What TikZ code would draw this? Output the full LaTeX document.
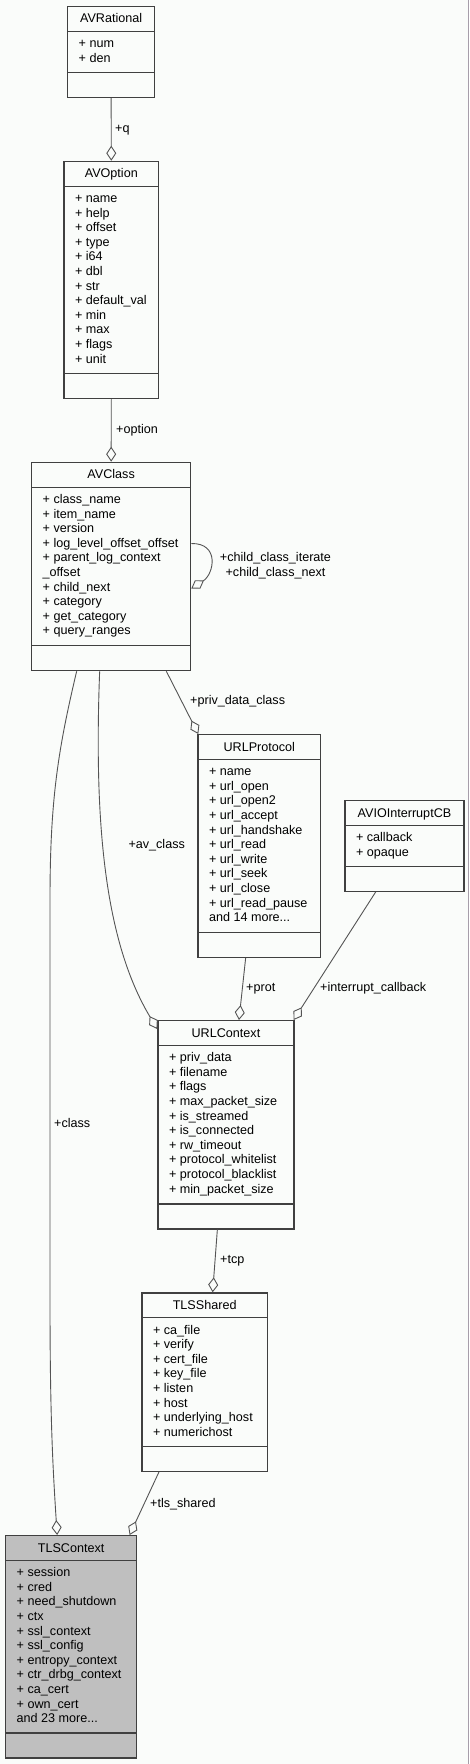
\documentclass[tikz,border=0pt]{standalone}
\usepackage{fontspec}
\setmainfont{Liberation Sans}
\usetikzlibrary{arrows.meta}

\definecolor{bgcol}{RGB}{250,252,250}
\definecolor{framecol}{RGB}{166,158,170}
\definecolor{boxcol}{RGB}{64,64,64}
\definecolor{edgecol}{RGB}{84,84,84}
\definecolor{selcol}{RGB}{191,191,191}

% class box: [style]{name}{left}{top}{width}{height}{title}{members}
\newcommand{\umlclass}[8][]{%
  \node[classbox,#1,minimum width=#5,minimum height=#6] (#2) at (#3,#4) {};
  \draw[classline] ([yshift=-25.5]#2.north west) -- ([yshift=-25.5]#2.north east);
  \draw[classline] ([yshift=25.5]#2.south west) -- ([yshift=25.5]#2.south east);
  \node[classtitle] (#2-title) at ([yshift=-17]#2.north) {#7};
  \node[classattrs] (#2-attrs) at ([xshift=11.5,yshift=-32]#2.north west) {\rule{0pt}{9.5pt}#8};
}

\begin{document}
\begin{tikzpicture}[x=1pt,y=-1pt]
\tikzstyle{every node}+=[font=\fontsize{12.6pt}{14.6pt}\selectfont]
\tikzstyle{classbox}=[draw=boxcol,line width=1.3pt,anchor=north west,inner sep=0pt]
\tikzstyle{classline}=[draw=boxcol,line width=1.3pt]
\tikzstyle{classtitle}=[anchor=base,inner sep=0pt]
\tikzstyle{classattrs}=[anchor=north west,inner sep=0pt,align=left]
\tikzstyle{lbl}=[anchor=west,inner sep=0pt,text height=9.5pt,text depth=0.9pt]
\tikzstyle{agg}=[draw=edgecol,line width=0.9pt,{Diamond[open,length=15pt,width=10pt]}-]

\useasboundingbox (0,0) rectangle (469,1764);
\fill[bgcol] (0,0) rectangle (469,1764);
\draw[framecol,line width=1.3pt] (468.3,0) -- (468.3,1764);

\umlclass{avrational}{67}{5.7}{87}{91}{AVRational}
  {+ num\\+ den}
\umlclass{avoption}{63.3}{160.7}{94.7}{237.3}{AVOption}
  {+ name\\+ help\\+ offset\\+ type\\+ i64\\+ dbl\\+ str\\+ default\_val\\+ min\\+ max\\+ flags\\+ unit}
\umlclass{avclass}{31}{461.7}{159}{208.3}{AVClass}
  {+ class\_name\\+ item\_name\\+ version\\+ log\_level\_offset\_offset\\+ parent\_log\_context\\\_offset\\+ child\_next\\+ category\\+ get\_category\\+ query\_ranges}
\umlclass{urlprotocol}{197.3}{734}{122.7}{222.7}{URLProtocol}
  {+ name\\+ url\_open\\+ url\_open2\\+ url\_accept\\+ url\_handshake\\+ url\_read\\+ url\_write\\+ url\_seek\\+ url\_close\\+ url\_read\_pause\\and 14 more...}
\umlclass{avioint}{344.3}{800}{119}{90.7}{AVIOInterruptCB}
  {+ callback\\+ opaque}
\umlclass{urlcontext}{157.3}{1020}{136}{208.3}{URLContext}
  {+ priv\_data\\+ filename\\+ flags\\+ max\_packet\_size\\+ is\_streamed\\+ is\_connected\\+ rw\_timeout\\+ protocol\_whitelist\\+ protocol\_blacklist\\+ min\_packet\_size}
\umlclass{tlsshared}{141.3}{1292.3}{125.4}{178.4}{TLSShared}
  {+ ca\_file\\+ verify\\+ cert\_file\\+ key\_file\\+ listen\\+ host\\+ underlying\_host\\+ numerichost}
\umlclass[fill=selcol]{tlscontext}{5}{1535}{131}{222.3}{TLSContext}
  {+ session\\+ cred\\+ need\_shutdown\\+ ctx\\+ ssl\_context\\+ ssl\_config\\+ entropy\_context\\+ ctr\_drbg\_context\\+ ca\_cert\\+ own\_cert\\and 23 more...}

\path (avoption.north)                  edge[agg] (avrational.south)
      (avclass.north)                   edge[agg] (avoption.south)
      ([xshift=1]urlprotocol.north west) edge[agg] ([xshift=55.2]avclass.south)
      ([xshift=13]urlcontext.north)     edge[agg] ([xshift=-13.65]urlprotocol.south)
      ([xshift=-1]urlcontext.north east) edge[agg] ([xshift=-28.8]avioint.south)
      ([xshift=8]tlsshared.north)       edge[agg] ([xshift=-8.6]urlcontext.south)
      ([xshift=-7.7]tlscontext.north east) edge[agg] ([xshift=-45.7]tlsshared.south);

\draw[agg] ([yshift=-22]avclass.east) .. controls (214,574) and (220,543) .. ([yshift=23]avclass.east);
\draw[agg] ([yshift=-9]urlcontext.north west) .. controls (104,940) and (94,820) .. ([xshift=-11.5]avclass.south);
\draw[agg] ([xshift=-14]tlscontext.north) .. controls (53,1470) and (50,1420) .. (50,1300)
  -- (50,900) .. controls (50,800) and (58,750) .. ([xshift=-34.5]avclass.south);

\node[lbl] (q-lbl)        at (115,127.7)  {+q};
\node[lbl] (option-lbl)   at (116,429)    {+option};
\node[inner sep=0pt,align=center] (child-lbl) at (275.5,565.6) {+child\_class\_iterate\\+child\_class\_next};
\node[lbl] (privdata-lbl) at (190,700.3)  {+priv\_data\_class};
\node[lbl] (avclass-lbl)  at (128.3,844.3) {+av\_class};
\node[lbl] (prot-lbl)     at (246,987.3)  {+prot};
\node[lbl] (intcb-lbl)    at (320,987.3)  {+interrupt\_callback};
\node[lbl] (class-lbl)    at (54,1123.3)  {+class};
\node[lbl] (tcp-lbl)      at (220,1259.3) {+tcp};
\node[lbl] (tls-lbl)      at (150,1502.7) {+tls\_shared};
\end{tikzpicture}
\end{document}
